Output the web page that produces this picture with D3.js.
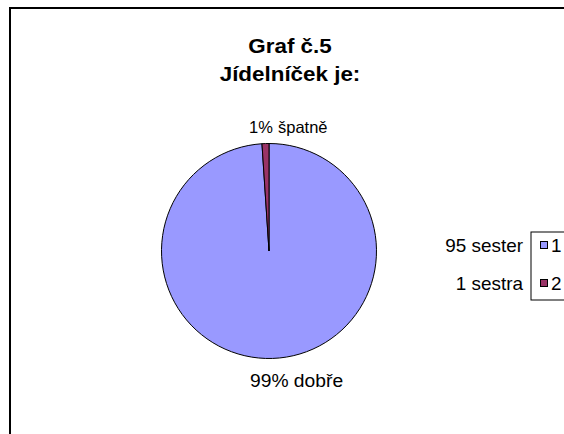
<!DOCTYPE html>
<html><head><meta charset="utf-8">
<script src="https://cdn.jsdelivr.net/npm/d3@7"></script>
<style>body{margin:0;background:#fff}svg{display:block}text{font-family:"Liberation Sans",Arial,sans-serif}</style>
</head><body><svg id="c" width="564" height="434"></svg>
<script>
const categories = ["1", "2"];
const values = [95, 1];
const seriesLabels = ["95 sester", "1 sestra"];
const percentLabels = ["99%", "1%"];
const sliceNames = ["dobře", "špatně"];
const titleLines = ["Graf č.5", "Jídelníček je:"];
const colors = ["#9999FF", "#993366"];

const svg = d3.select("#c");
svg.append("rect").attr("x",0).attr("y",0).attr("width",564).attr("height",434).attr("fill","#fff");
svg.append("rect").attr("x",10).attr("y",8).attr("width",600).attr("height",500)
  .attr("fill","none").attr("stroke","#000").attr("stroke-width",2);

function stext(g, x, y, txt, size, weight, anchor, sx){
  return g.append("text").attr("transform",`translate(${x},${y}) scale(${sx||1},1)`)
    .attr("font-size",size).attr("font-weight",weight||"normal")
    .attr("text-anchor",anchor||"start").attr("fill","#000").text(txt);
}
titleLines.forEach((t,i)=> stext(svg, 290, 53 + i*28, t, 20, "bold", "middle", 1.12));

const cx = 269, cy = 251, r = 107.5;
const color = d3.scaleOrdinal().domain(categories).range(colors);
const pie = d3.pie().sort(null).value(d=>d.v);
const data = categories.map((c,i)=>({c, v: values[i]}));
const arcs = pie(data);
const arc = d3.arc().innerRadius(0).outerRadius(r);
const g = svg.append("g").attr("transform",`translate(${cx},${cy})`);
g.selectAll("path").data(arcs).join("path")
  .attr("d",arc).attr("fill",d=>color(d.data.c)).attr("stroke","#000").attr("stroke-width",1);

// data labels
stext(svg, 250, 387, percentLabels[0] + " " + sliceNames[0], 18, "normal", "start", 1.07);
stext(svg, 249, 133, percentLabels[1], 16.5, "normal", "start", 1.0);
stext(svg, 278, 133, sliceNames[1], 16.5, "normal", "start", 1.0);

// legend
svg.append("rect").attr("x",531).attr("y",232).attr("width",60).attr("height",68)
  .attr("fill","#fff").attr("stroke","#000").attr("stroke-width",1);
const ly = d3.scalePoint().domain(categories).range([245, 283]);
categories.forEach((c,i)=>{
  const y = ly(c);
  stext(svg, 523, y+6.5, seriesLabels[i], 18, "normal", "end", 1.05);
  svg.append("rect").attr("x",540.5).attr("y",y-3.5).attr("width",7).attr("height",7)
    .attr("fill",color(c)).attr("stroke","#000").attr("stroke-width",1);
  stext(svg, 551, y+6.5, c, 18, "normal", "start", 1.05);
});
</script></body></html>
